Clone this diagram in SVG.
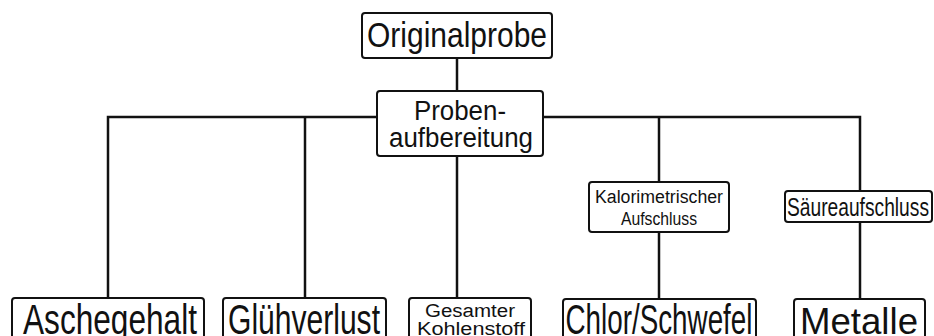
<svg xmlns="http://www.w3.org/2000/svg" width="934" height="336" viewBox="0 0 934 336">
<style>
.box{fill:#fff;stroke:#111;stroke-width:2}
.ln{fill:none;stroke:#111;stroke-width:2.5}
text{font-family:"Liberation Sans",Arial,sans-serif;fill:#111;text-anchor:middle}
</style>
<rect width="934" height="336" fill="#fff"/>
<g id="connectors">
<line class="ln" x1="457" y1="58" x2="457" y2="92"/>
<polyline class="ln" points="108,298 108,117 860,117 860,192"/>
<line class="ln" x1="305" y1="117" x2="305" y2="298"/>
<line class="ln" x1="457" y1="156" x2="457" y2="298"/>
<line class="ln" x1="659" y1="117" x2="659" y2="182"/>
<line class="ln" x1="659" y1="232" x2="659" y2="299"/>
<line class="ln" x1="860" y1="222" x2="860" y2="299"/>
</g>
<g id="originalprobe">
<rect class="box" x="362" y="13" width="190" height="45" rx="3"/>
<text x="457" y="47" font-size="35" textLength="180" lengthAdjust="spacingAndGlyphs">Originalprobe</text>
</g>
<g id="probenaufbereitung">
<rect class="box" x="377" y="91" width="166" height="65" rx="3"/>
<text x="460" y="120" font-size="27" textLength="92" lengthAdjust="spacingAndGlyphs">Proben-</text>
<text x="461" y="147" font-size="27" textLength="144" lengthAdjust="spacingAndGlyphs">aufbereitung</text>
</g>
<g id="kalorimetrisch">
<rect class="box" x="589" y="182" width="140" height="50" rx="3"/>
<text x="659" y="203" font-size="18" textLength="128" lengthAdjust="spacingAndGlyphs">Kalorimetrischer</text>
<text x="659" y="225" font-size="18" textLength="76" lengthAdjust="spacingAndGlyphs">Aufschluss</text>
</g>
<g id="saeureaufschluss">
<rect class="box" x="785" y="191" width="147" height="31" rx="3"/>
<text x="858" y="216" font-size="26" textLength="142" lengthAdjust="spacingAndGlyphs">Säureaufschluss</text>
</g>
<g id="aschegehalt">
<rect class="box" x="12" y="298" width="192" height="50" rx="3"/>
<text x="110" y="334" font-size="42" textLength="174" lengthAdjust="spacingAndGlyphs">Aschegehalt</text>
</g>
<g id="gluehverlust">
<rect class="box" x="223" y="298" width="163" height="50" rx="3"/>
<text x="304" y="334" font-size="42" textLength="152" lengthAdjust="spacingAndGlyphs">Glühverlust</text>
</g>
<g id="kohlenstoff">
<rect class="box" x="409" y="298" width="122" height="50" rx="3"/>
<text x="470" y="317" font-size="18" textLength="90" lengthAdjust="spacingAndGlyphs">Gesamter</text>
<text x="471" y="335" font-size="18" textLength="108" lengthAdjust="spacingAndGlyphs">Kohlenstoff</text>
</g>
<g id="chlorschwefel">
<rect class="box" x="563" y="299" width="193" height="50" rx="3"/>
<text x="659" y="334" font-size="42" textLength="187" lengthAdjust="spacingAndGlyphs">Chlor/Schwefel</text>
</g>
<g id="metalle">
<rect class="box" x="794" y="299" width="131" height="50" rx="3"/>
<text x="859" y="334" font-size="37" textLength="118" lengthAdjust="spacingAndGlyphs">Metalle</text>
</g>
</svg>
